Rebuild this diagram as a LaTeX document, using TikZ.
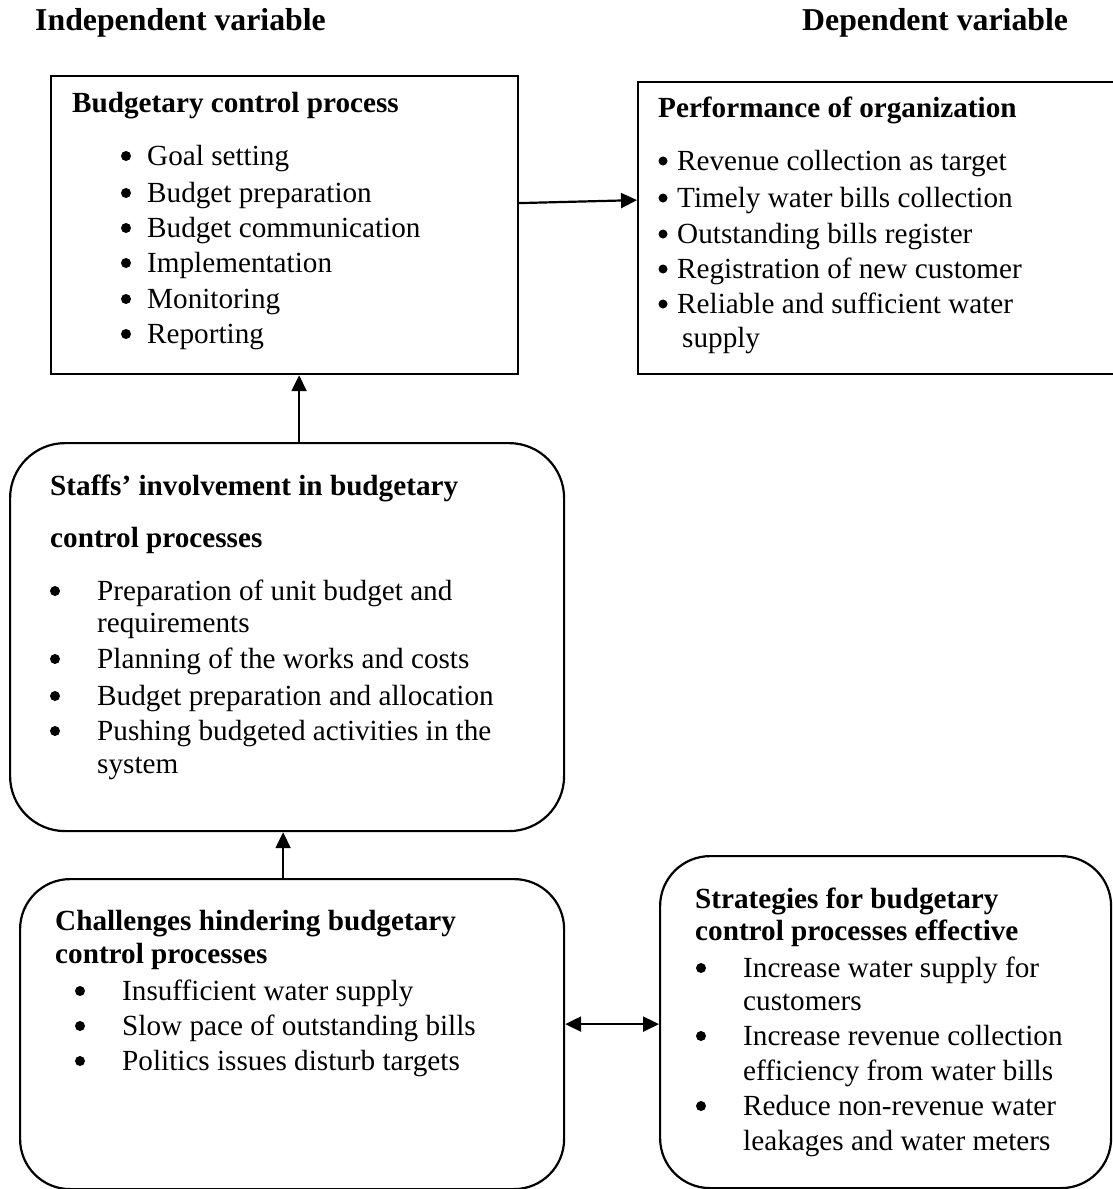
\documentclass[tikz,border=0pt]{standalone}
\usepackage{fontspec}
\setmainfont{Liberation Serif}
\usetikzlibrary{arrows.meta}
\begin{document}
\begin{tikzpicture}[x=1pt,y=-1pt,
 box/.style={draw, line width=2.2pt, anchor=north west, inner sep=0pt},
 txt/.style={anchor=base west, inner sep=0pt, font=\fontsize{29.2}{35}\selectfont},
 ttl/.style={anchor=base west, inner sep=0pt, font=\fontsize{29.2}{35}\selectfont\bfseries},
 hdr/.style={anchor=base west, inner sep=0pt, font=\fontsize{31.8}{38}\selectfont\bfseries},
 dot/.style={circle, fill, inner sep=0pt, minimum size=10pt},
 arr/.style={line width=2.2pt, -{Triangle[length=16pt,width=15pt]}},
 darr/.style={line width=2.2pt, {Triangle[length=16pt,width=15pt]}-{Triangle[length=16pt,width=15pt]}},
]
\useasboundingbox (0,0) rectangle (1113,1189);

% headers
\node[hdr] (hind) at (35,30) {Independent variable};
\node[hdr] (hdep) at (802,30) {Dependent variable};

% boxes
\node[box, minimum width=467pt, minimum height=298pt] (b1) at (50,75) {};
\node[box, minimum width=490pt, minimum height=292pt] (b2) at (637,81) {};
\node[box, rounded corners=55pt, minimum width=554pt, minimum height=388pt] (st) at (9,442) {};
\node[box, rounded corners=50pt, minimum width=544pt, minimum height=310pt] (ch) at (19,878) {};
\node[box, rounded corners=50pt, minimum width=451pt, minimum height=332pt] (sg) at (659,855) {};

% box 1 text
\node[ttl] (b1t) at (72,112) {Budgetary control process};
\foreach \y/\t [count=\i] in {165/Goal setting, 202/Budget preparation, 237/Budget communication, 272/Implementation, 308/Monitoring, 343/Reporting}{
  \node[dot] (b1d\i) at (126,\y-9) {};
  \node[txt] (b1i\i) at (147,\y) {\t};
}

% box 2 text
\node[ttl] (b2t) at (658,117) {Performance of organization};
\foreach \y/\t [count=\i] in {170/Revenue collection as target, 207/Timely water bills collection, 243/Outstanding bills register, 278/Registration of new customer, 313/Reliable and sufficient water}{
  \node[dot, minimum size=9pt] (b2d\i) at (663,\y-9) {};
  \node[txt] (b2i\i) at (677,\y) {\t};
}
\node[txt] (b2i6) at (682,347) {supply};

% staff box text
\node[ttl] (stt1) at (50,495) {Staffs’ involvement in budgetary};
\node[ttl] (stt2) at (50,547) {control processes};
\foreach \y [count=\i] in {600,668,705,740}{
  \node[dot] (std\i) at (55,\y-9) {};
}
\node[txt] (sti1) at (97,600) {Preparation of unit budget and};
\node[txt] (sti1b) at (97,632) {requirements};
\node[txt] (sti2) at (97,668) {Planning of the works and costs};
\node[txt] (sti3) at (97,705) {Budget preparation and allocation};
\node[txt] (sti4) at (97,740) {Pushing budgeted activities in the};
\node[txt] (sti4b) at (97,773) {system};

% challenges text
\node[ttl] (cht1) at (55,930) {Challenges hindering budgetary};
\node[ttl] (cht2) at (55,963) {control processes};
\foreach \y/\t [count=\i] in {1000/Insufficient water supply, 1035/Slow pace of outstanding bills, 1070/Politics issues disturb targets}{
  \node[dot] (chd\i) at (80,\y-9) {};
  \node[txt] (chi\i) at (122,\y) {\t};
}

% strategies text
\node[ttl] (sgt1) at (695,908) {Strategies for budgetary};
\node[ttl] (sgt2) at (695,940) {control processes effective};
\foreach \y [count=\i] in {977,1045,1115}{
  \node[dot] (sgd\i) at (701,\y-9) {};
}
\node[txt] (sgi1) at (743,977) {Increase water supply for};
\node[txt] (sgi1b) at (743,1010) {customers};
\node[txt] (sgi2) at (743,1045) {Increase revenue collection};
\node[txt] (sgi2b) at (743,1080) {efficiency from water bills};
\node[txt] (sgi3) at (743,1115) {Reduce non-revenue water};
\node[txt] (sgi3b) at (743,1150) {leakages and water meters};

% connectors
\draw[arr] ([yshift=22pt]b1.east) -- ([yshift=28pt]b2.west);
\draw[arr] ([xshift=12pt]st.north) -- ([xshift=14.5pt]b1.south);
\draw[arr] ([xshift=-9pt]ch.north) -- ([xshift=-4pt]st.south);
\draw[darr] ([yshift=10pt]ch.east) -- ([yshift=-2pt]sg.west);
\end{tikzpicture}
\end{document}
